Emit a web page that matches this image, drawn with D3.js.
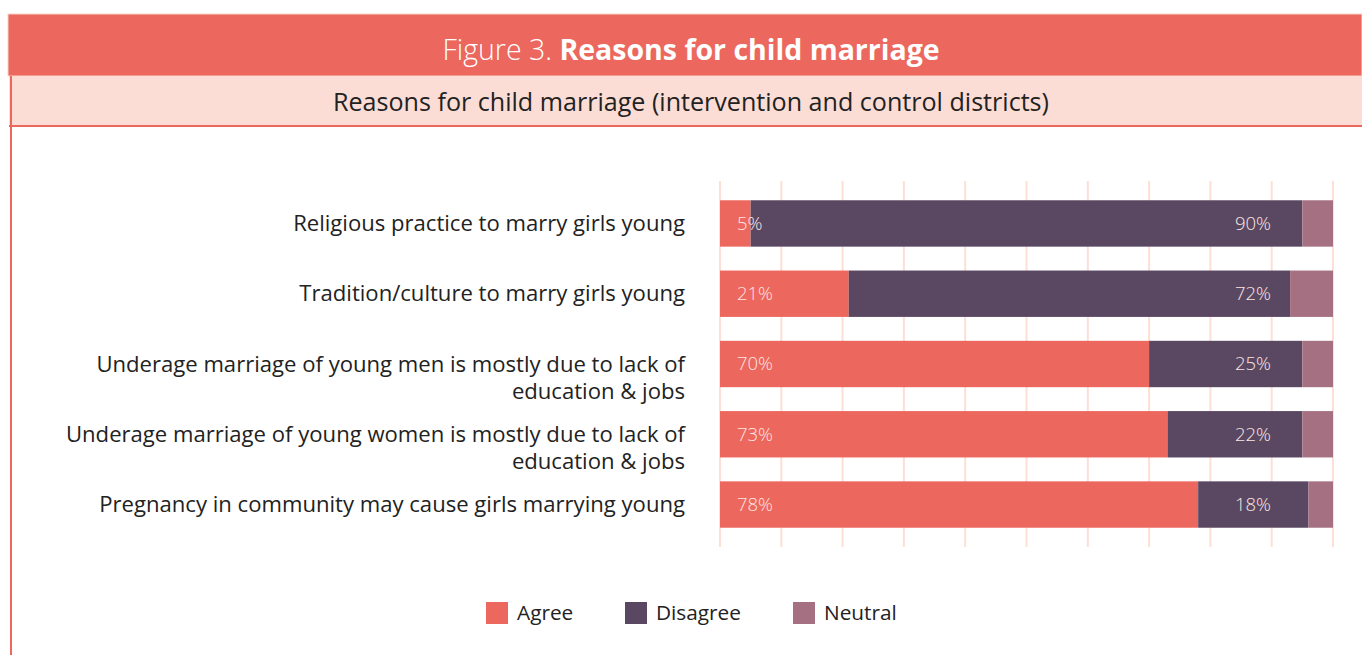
<!DOCTYPE html>
<html>
<head>
<meta charset="utf-8">
<script src="https://cdn.jsdelivr.net/npm/d3@7"></script>
<style>
  html, body { margin: 0; padding: 0; background: #fff; }
  svg { display: block; }
</style>
</head>
<body>
<svg id="chart" width="1362" height="655"></svg>
<script>
// Survey reasons for child marriage, shares of respondents (%)
const categories = [
  ["Religious practice to marry girls young"],
  ["Tradition/culture to marry girls young"],
  ["Underage marriage of young men is mostly due to lack of", "education & jobs"],
  ["Underage marriage of young women is mostly due to lack of", "education & jobs"],
  ["Pregnancy in community may cause girls marrying young"]
];
const seriesNames = ["Agree", "Disagree", "Neutral"];
const agree    = [5, 21, 70, 73, 78];
const disagree = [90, 72, 25, 22, 18];
const neutral  = [5, 7, 5, 5, 4];
const gridTicks = [0, 10, 20, 30, 40, 50, 60, 70, 80, 90, 100];

const colors = { Agree: "#EC675D", Disagree: "#5A4862", Neutral: "#A67083" };

const svg = d3.select("#chart");
const W = 1362, H = 655;

// Header bands
svg.append("rect").attr("x", 8).attr("y", 14).attr("width", W - 8).attr("height", 62)
  .attr("fill", "#EC675D").attr("stroke", "#F9D3CB").attr("stroke-width", 1);
svg.append("rect").attr("x", 9).attr("y", 76).attr("width", W - 9).attr("height", 49)
  .attr("fill", "#FBDDD6");
svg.append("line").attr("x1", 9).attr("x2", W).attr("y1", 126).attr("y2", 126)
  .attr("stroke", "#EC675D").attr("stroke-width", 2);
svg.append("line").attr("x1", 11).attr("x2", 11).attr("y1", 76).attr("y2", H)
  .attr("stroke", "#EC675D").attr("stroke-width", 2);

const title = svg.append("text").attr("x", 691).attr("y", 60)
  .attr("text-anchor", "middle").attr("fill", "#fff")
  .style("font-family", "'Open Sans', sans-serif").style("font-size", "28.5px");
title.append("tspan").attr("font-weight", 300).text("Figure 3. ");
title.append("tspan").attr("font-weight", 700).text("Reasons for child marriage");

svg.append("text").attr("x", 691).attr("y", 111)
  .attr("text-anchor", "middle").attr("fill", "#222")
  .style("font-family", "'Open Sans', sans-serif").style("font-size", "25.1px")
  .text("Reasons for child marriage (intervention and control districts)");

// Scales
const x = d3.scaleLinear().domain([0, 100]).range([720, 1333]);
const y = d3.scaleBand().domain(d3.range(categories.length)).range([182, 546]).paddingInner(0.34).paddingOuter(0.26);

// Vertical gridlines
svg.append("g").selectAll("line").data(gridTicks).join("line")
  .attr("x1", d => x(d)).attr("x2", d => x(d))
  .attr("y1", 181).attr("y2", 547)
  .attr("stroke", "#FDDFD7").attr("stroke-width", 2);

// Stacked bars
const rows = categories.map((c, i) => ({ i, Agree: agree[i], Disagree: disagree[i], Neutral: neutral[i] }));
const stack = d3.stack().keys(seriesNames)(rows);

svg.append("g").selectAll("g").data(stack).join("g")
  .attr("fill", s => colors[s.key])
  .selectAll("rect").data(s => s).join("rect")
  .attr("x", d => x(d[0]))
  .attr("width", d => x(d[1]) - x(d[0]))
  .attr("y", d => y(d.data.i))
  .attr("height", y.bandwidth());

// Value labels
const labelFont = "'Open Sans', sans-serif";
const vals = svg.append("g").style("font-family", labelFont).style("font-size", "18.5px")
  .attr("fill", "#FCE6E3").attr("font-weight", 300);
vals.selectAll("text.a").data(rows).join("text").attr("class", "a")
  .attr("x", x(0) + 17).attr("y", d => y(d.i) + y.bandwidth() / 2).attr("dy", "0.35em")
  .text(d => d.Agree + "%");
vals.selectAll("text.d").data(rows).join("text").attr("class", "d")
  .attr("x", x(100) - 62).attr("y", d => y(d.i) + y.bandwidth() / 2).attr("dy", "0.35em")
  .attr("text-anchor", "end")
  .text(d => d.Disagree + "%");

// Category labels
const cat = svg.append("g").style("font-family", labelFont).style("font-size", "22.1px").attr("fill", "#222");
categories.forEach((lines, i) => {
  const t = cat.append("text").attr("x", 685).attr("y", y(i) + y.bandwidth() / 2)
    .attr("text-anchor", "end");
  lines.forEach((ln, k) => t.append("tspan").attr("x", 685).attr("dy", k === 0 ? "0.35em" : 27).text(ln));
});

// Legend
const legendX = [486, 625, 793];
const lg = svg.append("g").style("font-family", labelFont).style("font-size", "20.8px");
seriesNames.forEach((n, i) => {
  lg.append("rect").attr("x", legendX[i]).attr("y", 602).attr("width", 22).attr("height", 22).attr("fill", colors[n]);
  lg.append("text").attr("x", legendX[i] + 31).attr("y", 613).attr("dy", "0.35em").attr("fill", "#222").text(n);
});
</script>
</body>
</html>
